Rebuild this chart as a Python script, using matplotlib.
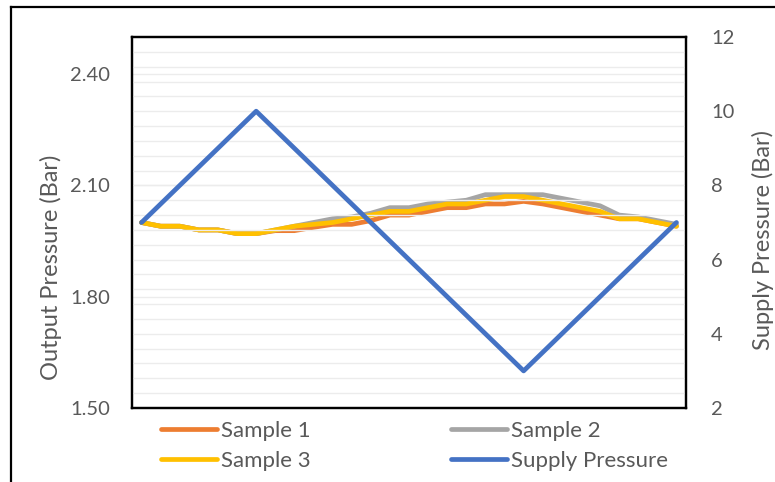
import matplotlib
matplotlib.use("Agg")
import matplotlib.pyplot as plt
from matplotlib.lines import Line2D

plt.rcParams['font.family'] = ['Lato', 'DejaVu Sans']

# readings, one per step
steps = list(range(29))
sample_1 = [2.00, 1.99, 1.99, 1.98, 1.98, 1.97, 1.97, 1.978, 1.978, 1.987,
            1.995, 1.995, 2.005, 2.02, 2.02, 2.03, 2.04, 2.04, 2.05, 2.05,
            2.057, 2.05, 2.04, 2.03, 2.02, 2.01, 2.01, 2.00, 1.99]
sample_2 = [2.00, 1.99, 1.99, 1.98, 1.98, 1.97, 1.97, 1.98, 1.99, 2.00,
            2.01, 2.015, 2.025, 2.04, 2.04, 2.05, 2.055, 2.06, 2.075, 2.075,
            2.075, 2.075, 2.065, 2.055, 2.045, 2.02, 2.015, 2.005, 1.995]
sample_3 = [2.00, 1.99, 1.99, 1.98, 1.98, 1.97, 1.97, 1.98, 1.99, 1.995,
            2.00, 2.01, 2.02, 2.03, 2.03, 2.04, 2.05, 2.05, 2.06, 2.07,
            2.07, 2.06, 2.05, 2.04, 2.03, 2.01, 2.01, 2.00, 1.99]
supply = [7, 7.5, 8, 8.5, 9, 9.5, 10, 9.5, 9, 8.5, 8, 7.5, 7, 6.5, 6, 5.5,
          5, 4.5, 4, 3.5, 3, 3.5, 4, 4.5, 5, 5.5, 6, 6.5, 7]

left_ticks = [1.50, 1.80, 2.10, 2.40]
right_ticks = [2, 4, 6, 8, 10, 12]

txt = '#595959'
grid_c = '#ECECEC'
lw = 3.4


def main():
    fig = plt.figure(figsize=(7.75, 4.82), dpi=100)
    ax1 = fig.add_axes([132 / 775, 1 - 408 / 482, 554 / 775, 371 / 482])
    ax2 = ax1.twinx()

    # light gridlines: right-axis minor steps plus left-axis majors
    for v in [2 + 0.4 * k for k in range(26)]:
        ax2.axhline(v, color=grid_c, lw=1.0, zorder=0)
    for v in left_ticks:
        ax1.axhline(v, color=grid_c, lw=1.0, zorder=0)

    l1, = ax1.plot(steps, sample_1, color='#ED7D31', lw=lw, solid_capstyle='round', zorder=3)
    l2, = ax1.plot(steps, sample_2, color='#A5A5A5', lw=lw, solid_capstyle='round', zorder=4)
    l3, = ax1.plot(steps, sample_3, color='#FFC000', lw=lw, solid_capstyle='round', zorder=5)
    l4, = ax2.plot(steps, supply, color='#4472C4', lw=lw, solid_capstyle='round', zorder=6)

    ax1.set_xlim(-0.5, 28.5)
    ax1.set_ylim(1.5, 2.5)
    ax2.set_ylim(2, 12)
    ax1.set_xticks([])
    ax1.set_yticks(left_ticks)
    ax1.set_yticklabels(['%.2f' % v for v in left_ticks])
    ax2.set_yticks(right_ticks)
    ax1.tick_params(axis='y', length=0, pad=16, labelsize=14.5, labelcolor=txt)
    ax2.tick_params(axis='y', length=0, pad=18, labelsize=14.5, labelcolor=txt)

    for ax in (ax1, ax2):
        for s in ax.spines.values():
            s.set_color('black')
            s.set_linewidth(1.6)

    ax1.set_ylabel('Output Pressure (Bar)', fontsize=17, color=txt)
    ax2.set_ylabel('Supply Pressure (Bar)', fontsize=17, color=txt)
    ax1.yaxis.set_label_coords(-0.126, 0.38)
    ax2.yaxis.set_label_coords(1.119, 0.453)

    fig.legend([l1, l3, l2, l4], ['Sample 1', 'Sample 3', 'Sample 2', 'Supply Pressure'],
               ncol=2, loc='upper left', bbox_to_anchor=(150 / 775, 1 - 410 / 482),
               frameon=False, fontsize=16, labelcolor=txt, handlelength=2.5,
               handletextpad=0.18, columnspacing=6.35, labelspacing=0.45, borderpad=0)

    # outer chart frame
    fig.add_artist(Line2D([11 / 775, 11 / 775], [-0.1, 1 - 7 / 482],
                          transform=fig.transFigure, color='black', lw=1.6))
    fig.add_artist(Line2D([11 / 775, 1.1], [1 - 7 / 482, 1 - 7 / 482],
                          transform=fig.transFigure, color='black', lw=1.6))

    fig.savefig('out.png', dpi=100)


if __name__ == '__main__':
    main()
